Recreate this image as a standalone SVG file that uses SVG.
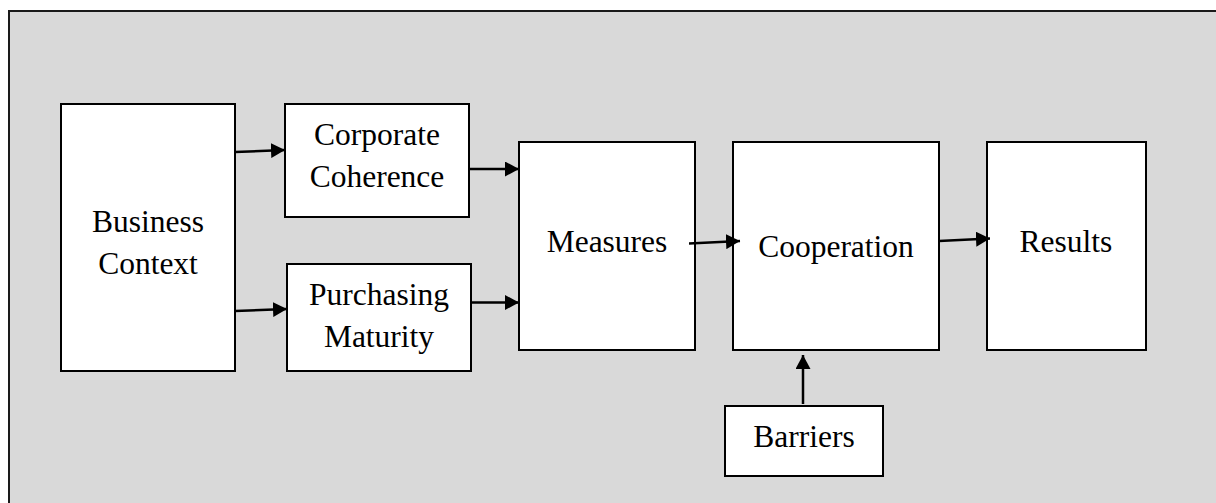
<svg xmlns="http://www.w3.org/2000/svg" width="1216" height="503" viewBox="0 0 1216 503">
  <style>
    .box { fill: #ffffff; stroke: #000000; stroke-width: 2; }
    .lbl { font-family: "Liberation Serif", "Times New Roman", serif; font-size: 31.5px; fill: #000000; text-anchor: middle; }
    .conn { stroke: #000000; stroke-width: 2.5; fill: none; marker-end: url(#head); }
  </style>
  <defs>
    <marker id="head" viewBox="0 0 14 15" refX="14" refY="7.5" markerWidth="14" markerHeight="15" markerUnits="userSpaceOnUse" orient="auto">
      <path d="M0,0 L14,7.5 L0,15 Z" fill="#000000"/>
    </marker>
  </defs>

  <!-- background panel -->
  <rect x="0" y="0" width="1216" height="503" fill="#ffffff"/>
  <rect x="9" y="11" width="1230" height="510" fill="#d9d9d9" stroke="#1a1a1a" stroke-width="2"/>

  <g id="business-context">
    <rect class="box" x="61" y="104" width="174" height="267"/>
    <text class="lbl" x="148" y="231.5">Business</text>
    <text class="lbl" x="148" y="274">Context</text>
  </g>

  <g id="corporate-coherence">
    <rect class="box" x="285" y="104" width="184" height="113"/>
    <text class="lbl" x="377" y="145">Corporate</text>
    <text class="lbl" x="377" y="187">Coherence</text>
  </g>

  <g id="purchasing-maturity">
    <rect class="box" x="287" y="264" width="184" height="107"/>
    <text class="lbl" x="379" y="305">Purchasing</text>
    <text class="lbl" x="379" y="347">Maturity</text>
  </g>

  <g id="measures">
    <rect class="box" x="519" y="142" width="176" height="208"/>
    <text class="lbl" x="607" y="252">Measures</text>
  </g>

  <g id="cooperation">
    <rect class="box" x="733" y="142" width="206" height="208"/>
    <text class="lbl" x="836" y="257">Cooperation</text>
  </g>

  <g id="results">
    <rect class="box" x="987" y="142" width="159" height="208"/>
    <text class="lbl" x="1066" y="252">Results</text>
  </g>

  <g id="barriers">
    <rect class="box" x="725" y="406" width="158" height="70"/>
    <text class="lbl" x="804" y="447">Barriers</text>
  </g>

  <g id="connectors">
    <line class="conn" x1="235" y1="152" x2="285" y2="150"/>
    <line class="conn" x1="235" y1="311" x2="287" y2="309"/>
    <line class="conn" x1="469" y1="169" x2="519" y2="169"/>
    <line class="conn" x1="471" y1="302.5" x2="519" y2="302.5"/>
    <line class="conn" x1="689" y1="243.5" x2="740" y2="241"/>
    <line class="conn" x1="939" y1="241" x2="990" y2="238.5"/>
    <line class="conn" x1="803" y1="404" x2="803" y2="355"/>
  </g>
</svg>
